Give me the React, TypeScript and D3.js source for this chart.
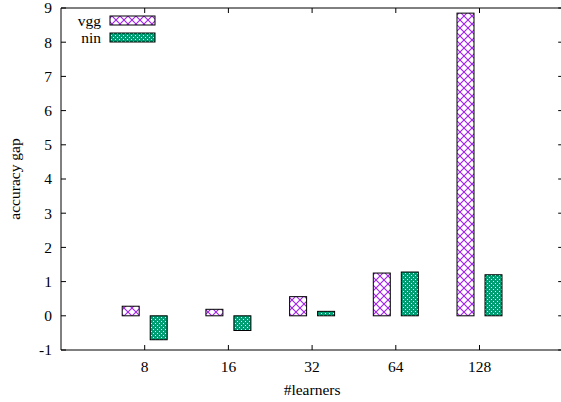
import React from "react";
import * as d3 from "d3";

const categories = ["8", "16", "32", "64", "128"];
const vggValues = [0.28, 0.19, 0.56, 1.25, 8.85];
const ninValues = [-0.7, -0.43, 0.13, 1.28, 1.2];
const yTicks = [-1, 0, 1, 2, 3, 4, 5, 6, 7, 8, 9];
const seriesNames = ["vgg", "nin"];

export default function App() {
  const W = 561, H = 402;
  const left = 61, top = 8, bottom = 350;
  const x = d3.scaleLinear().domain([-1, 5]).range([left, left + 6 * 83.7]);
  const y = d3.scaleLinear().domain([-1, 9]).range([bottom, top]);
  const right = x(5);
  const bw = 17;
  const off = 14;
  const fs = 15.5;
  const ts: React.CSSProperties = { fontFamily: "Liberation Serif, DejaVu Serif, serif", fontSize: fs };
  const series = [
    { name: seriesNames[0], values: vggValues, fill: "url(#pVgg)", dx: -off },
    { name: seriesNames[1], values: ninValues, fill: "url(#pNin)", dx: off },
  ];
  return (
    <svg width={W} height={H} style={{ position: "absolute", left: 0, top: 0 }}>
      <defs>
        <pattern id="pVgg" patternUnits="userSpaceOnUse" width={8} height={8}>
          <rect width={8} height={8} fill="white" />
          <path d="M0,0L8,8M8,0L0,8" stroke="#a020f0" strokeWidth={1.1} />
        </pattern>
        <pattern id="pNin" patternUnits="userSpaceOnUse" width={4} height={4}>
          <rect width={4} height={4} fill="#009e73" />
          <rect x={1} y={1} width={1} height={1} fill="white" />
          <rect x={3} y={3} width={1} height={1} fill="white" />
        </pattern>
      </defs>
      <rect width={W} height={H} fill="white" />
      {series.map((s) =>
        s.values.map((v, i) => {
          const cx = x(i) + s.dx;
          const y0 = y(0), y1 = y(v);
          return (
            <rect key={s.name + i} x={cx - bw / 2} y={Math.min(y0, y1)} width={bw}
              height={Math.abs(y1 - y0)} fill={s.fill} stroke="black" strokeWidth={1} />
          );
        })
      )}
      <path d={`M${right},${top}H${left}V${bottom}H${right}`} fill="none" stroke="black" strokeWidth={1} />
      {yTicks.map((t) => (
        <g key={t}>
          <line x1={left} x2={left + 5} y1={y(t)} y2={y(t)} stroke="black" />
          <line x1={right} x2={right - 5} y1={y(t)} y2={y(t)} stroke="black" />
          <text x={left - 9} y={y(t)} dy="0.35em" textAnchor="end" style={ts}>{t}</text>
        </g>
      ))}
      {categories.map((c, i) => (
        <g key={c}>
          <line x1={x(i)} x2={x(i)} y1={bottom} y2={bottom - 5} stroke="black" />
          <line x1={x(i)} x2={x(i)} y1={top} y2={top + 5} stroke="black" />
          <text x={x(i)} y={bottom + 22} textAnchor="middle" style={ts}>{c}</text>
        </g>
      ))}
      <text x={x(2)} y={395} textAnchor="middle" style={ts}>#learners</text>
      <text transform={`translate(20,${y(4)}) rotate(-90)`} textAnchor="middle" style={ts}>accuracy gap</text>
      {series.map((s, i) => (
        <g key={s.name}>
          <text x={101} y={20.5 + i * 17} dy="0.35em" textAnchor="end" style={ts}>{s.name}</text>
          <rect x={110} y={16 + i * 17} width={45} height={9} fill={s.fill} stroke="black" />
        </g>
      ))}
    </svg>
  );
}
